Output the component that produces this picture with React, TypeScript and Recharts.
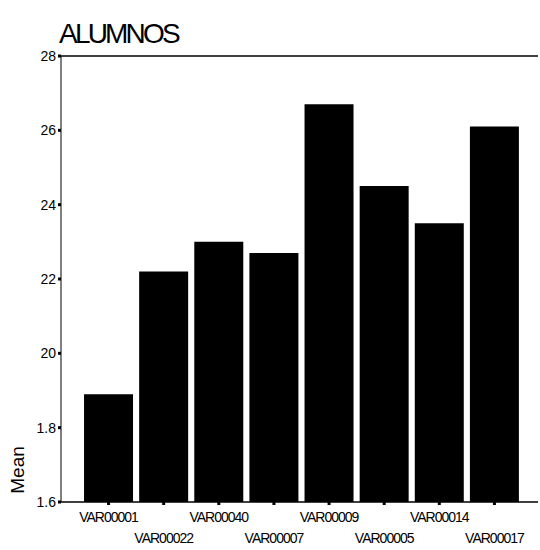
import React from "react"
import { BarChart, Bar, XAxis, YAxis, ReferenceLine } from "recharts"

const categories = ["VAR00001", "VAR00022", "VAR00040", "VAR00007", "VAR00009", "VAR00005", "VAR00014", "VAR00017"]
const means = [18.9, 22.2, 23.0, 22.7, 26.7, 24.5, 23.5, 26.1]
const yTicks = [16, 18, 20, 22, 24, 26, 28]
const yTickLabels = ["1.6", "1.8", "20", "22", "24", "26", "28"]

const data = categories.map((name, i) => ({ name, mean: means[i] }))

const font = "'Liberation Sans', Arial, sans-serif"

const XTick = (props: any) => {
  const { x, y, payload, index } = props
  const dy = index % 2 === 0 ? 15 : 36
  return (
    <text x={x} y={y + dy} textAnchor="middle" fontFamily={font} fontSize={14} letterSpacing={-1} fill="#000">
      {payload.value}
    </text>
  )
}

export default function App() {
  return (
    <div style={{ position: "absolute", left: 0, top: 0, width: 540, height: 550, background: "#fff" }}>
      <div
        style={{
          position: "absolute",
          left: 59,
          top: 18,
          fontFamily: font,
          fontSize: 28,
          letterSpacing: -2.8,
          color: "#000",
          lineHeight: "32px",
        }}
      >
        ALUMNOS
      </div>
      <div
        style={{
          position: "absolute",
          left: 18,
          top: 470,
          transform: "translate(-50%, -50%) rotate(-90deg)",
          fontFamily: font,
          fontSize: 19,
          color: "#000",
          lineHeight: "20px",
        }}
      >
        Mean
      </div>
      <BarChart
        width={540}
        height={550}
        data={data}
        margin={{ top: 56, left: 0, right: 2, bottom: 0 }}
        barCategoryGap="5.5%"
      >
        <XAxis
          dataKey="name"
          padding={{ left: 20, right: 16 }}
          axisLine={{ stroke: "#000", strokeWidth: 1.5 }}
          tickLine={{ stroke: "#000", strokeWidth: 3 }}
          tickSize={3}
          interval={0}
          tick={<XTick />}
          height={48}
        />
        <YAxis
          width={61}
          domain={[16, 28]}
          ticks={yTicks}
          tickFormatter={(v: number) => yTickLabels[yTicks.indexOf(v)]}
          axisLine={{ stroke: "#000", strokeWidth: 1 }}
          tickLine={{ stroke: "#000", strokeWidth: 3 }}
          tickSize={3}
          tick={{ fill: "#000", fontSize: 14, fontFamily: font }}
          allowDataOverflow
        />
        <ReferenceLine y={28} stroke="#000" strokeWidth={1.5} />
        <Bar dataKey="mean" fill="#000" isAnimationActive={false} />
      </BarChart>
    </div>
  )
}
